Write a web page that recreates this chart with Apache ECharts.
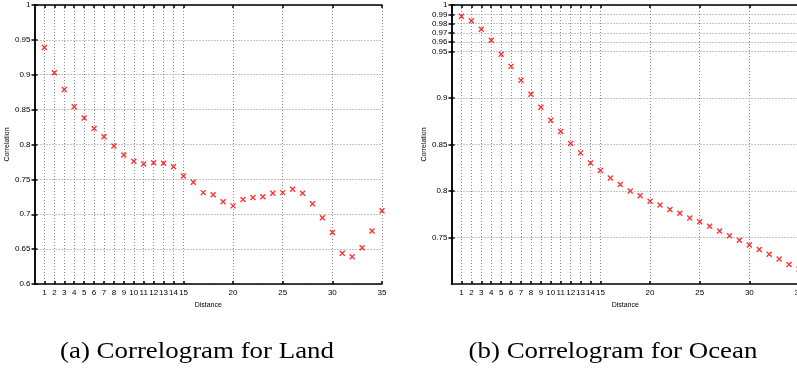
<!DOCTYPE html>
<html>
<head>
<meta charset="utf-8">
<script src="https://cdn.jsdelivr.net/npm/echarts@6/dist/echarts.min.js"></script>
<style>
  html, body { margin: 0; padding: 0; background: #fff; }
  #chart { width: 797px; height: 371px; }
</style>
</head>
<body>
<div id="chart"></div>
<script>
// distances 1..35
const distances = [1, 2, 3, 4, 5, 6, 7, 8, 9, 10, 11, 12, 13, 14, 15, 16, 17, 18,
  19, 20, 21, 22, 23, 24, 25, 26, 27, 28, 29, 30, 31, 32, 33, 34, 35];
const landCorr = [0.939, 0.903, 0.879, 0.854, 0.838, 0.823, 0.811, 0.798, 0.785,
  0.776, 0.772, 0.774, 0.773, 0.768, 0.755, 0.746, 0.731, 0.728, 0.718, 0.712,
  0.721, 0.724, 0.725, 0.730, 0.731, 0.736, 0.730, 0.715, 0.695, 0.674, 0.644,
  0.639, 0.652, 0.676, 0.705];
const oceanCorr = [0.988, 0.983, 0.974, 0.962, 0.947, 0.934, 0.919, 0.904, 0.890,
  0.876, 0.864, 0.851, 0.841, 0.830, 0.822, 0.814, 0.807, 0.800, 0.795, 0.789,
  0.785, 0.780, 0.776, 0.771, 0.767, 0.762, 0.757, 0.752, 0.747, 0.742, 0.737,
  0.732, 0.727, 0.721, 0.716];
const xTicks = [1, 2, 3, 4, 5, 6, 7, 8, 9, 10, 11, 12, 13, 14, 15, 20, 25, 30, 35];
const landTicks = [0.6, 0.65, 0.7, 0.75, 0.8, 0.85, 0.9, 0.95, 1];
const oceanTicks = [0.75, 0.8, 0.85, 0.9, 0.95, 0.96, 0.97, 0.98, 0.99, 1];

const chart = echarts.init(document.getElementById('chart'));

const black = { color: '#000', width: 1.5 };
const dotted = { color: '#8a8a8a', width: 1, type: [1, 2] };
const labelFont = { color: '#000', fontSize: 8, fontFamily: 'Liberation Sans' };
const nameFont = { color: '#000', fontSize: 7, fontFamily: 'Liberation Sans' };

const cross = 'path://M0,0L10,10M10,0L0,10';

const bottomX = (gridIndex) => ({
  type: 'value', gridIndex, min: 0, max: 35,
  name: 'Distance', nameLocation: 'middle', nameGap: 12, nameTextStyle: nameFont,
  axisLine: { lineStyle: black },
  axisTick: { inside: true, length: 3, customValues: xTicks, lineStyle: black },
  axisLabel: { ...labelFont, margin: 5, customValues: xTicks },
  splitLine: { show: true, lineStyle: dotted },
});
const topX = (gridIndex) => ({
  type: 'value', gridIndex, min: 0, max: 35, position: 'top',
  axisLine: { lineStyle: black },
  axisTick: { inside: true, length: 3, customValues: xTicks, lineStyle: black },
  axisLabel: { show: false },
  splitLine: { show: false },
});
const leftY = (gridIndex, min, ticks, gap) => ({
  type: 'value', gridIndex, min, max: 1,
  name: 'Correlation', nameLocation: 'middle', nameGap: gap, nameTextStyle: nameFont,
  axisLine: { lineStyle: black },
  axisTick: { inside: true, length: 3, customValues: ticks, lineStyle: black },
  axisLabel: { ...labelFont, margin: 4, customValues: ticks, hideOverlap: false },
  splitLine: { show: true, lineStyle: dotted },
});
const rightY = (gridIndex, min, ticks) => ({
  type: 'value', gridIndex, min, max: 1, position: 'right',
  axisLine: { lineStyle: black },
  axisTick: { inside: true, length: 3, customValues: ticks, lineStyle: black },
  axisLabel: { show: false },
  splitLine: { show: false },
});

const marks = (values, xi, yi) => ({
  type: 'scatter',
  xAxisIndex: xi, yAxisIndex: yi,
  data: distances.map((d, i) => [d, values[i]]),
  symbol: cross,
  symbolSize: 5,
  itemStyle: { color: 'transparent', borderColor: '#ff0000', borderWidth: 1.4 },
  silent: true,
});

// serif caption, stretched a bit to approximate the LaTeX font width
const caption = (text, x) => ({
  type: 'group', x, y: 352, scaleX: 1.12,
  children: [{
    type: 'text', x: 0, y: 0,
    style: { text, fill: '#000', font: '24px "Liberation Serif"',
      textAlign: 'center', textVerticalAlign: 'middle' },
  }],
});

chart.setOption({
  animation: false,
  backgroundColor: '#fff',
  grid: [
    { left: 34.5, top: 5, width: 347.5, height: 279, outerBoundsMode: 'none' },
    { left: 451.5, top: 5, width: 347.5, height: 279, outerBoundsMode: 'none' },
  ],
  xAxis: [bottomX(0), topX(0), bottomX(1), topX(1)],
  yAxis: [leftY(0, 0.6, landTicks, 14), rightY(0, 0.6, landTicks),
          leftY(1, 0.7, oceanTicks, 16), rightY(1, 0.7, oceanTicks)],
  series: [marks(landCorr, 0, 0), marks(oceanCorr, 2, 2)],
  graphic: [
    caption('(a) Correlogram for Land', 197),
    caption('(b) Correlogram for Ocean', 613),
  ],
});
</script>
</body>
</html>
